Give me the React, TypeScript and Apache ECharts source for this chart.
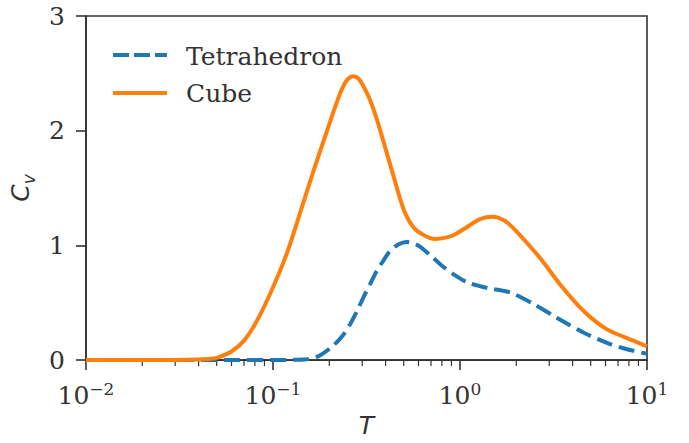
import React, { useEffect, useRef } from "react";
import * as echarts from "echarts";

// Data
const tetraT = [0.01, 0.02, 0.05, 0.1, 0.13, 0.155, 0.178, 0.21, 0.235, 0.258, 0.28, 0.304, 0.33, 0.358, 0.39, 0.422, 0.47, 0.518, 0.56, 0.611, 0.72, 0.82, 0.92, 1.09, 1.39, 1.85, 2.47, 3.29, 4.57, 6.34, 8.0, 10];
const tetraCv = [0, 0, 0, 0.001, 0.003, 0.01, 0.04, 0.127, 0.21, 0.31, 0.42, 0.545, 0.66, 0.775, 0.87, 0.95, 1.01, 1.03, 1.02, 0.99, 0.89, 0.81, 0.75, 0.68, 0.63, 0.59, 0.49, 0.37, 0.24, 0.14, 0.09, 0.055];

const cubeT = [0.01, 0.02, 0.03, 0.04, 0.045, 0.05, 0.06, 0.07, 0.08, 0.096, 0.118, 0.14, 0.164, 0.19, 0.219, 0.237, 0.253, 0.269, 0.286, 0.304, 0.33, 0.359, 0.397, 0.44, 0.498, 0.562, 0.638, 0.735, 0.85, 0.95, 1.09, 1.28, 1.5, 1.75, 2.01, 2.68, 3.43, 4.57, 6.08, 8.45, 10];
const cubeCv = [0, 0, 0.001, 0.005, 0.01, 0.02, 0.075, 0.17, 0.31, 0.57, 0.92, 1.29, 1.64, 1.95, 2.245, 2.385, 2.455, 2.475, 2.455, 2.39, 2.27, 2.1, 1.86, 1.61, 1.32, 1.16, 1.09, 1.055, 1.07, 1.1, 1.16, 1.23, 1.25, 1.21, 1.12, 0.89, 0.66, 0.43, 0.27, 0.17, 0.12];

const seriesNames = ["Tetrahedron", "Cube"];
const yTicks = [0, 1, 2, 3];
const xDecades = [0.01, 0.1, 1];
const minorMultipliers = [2, 3, 4, 5, 6, 7, 8, 9];

const INK = "#333333";
const SERIF = "'DejaVu Serif', serif";
const SANS = "'DejaVu Sans', sans-serif";

export default function App() {
  const ref = useRef<HTMLDivElement>(null);

  useEffect(() => {
    if (!ref.current) return;
    const chart = echarts.init(ref.current, null, { renderer: "svg" });

    const minorTicks: number[][] = [];
    xDecades.forEach((d) => minorMultipliers.forEach((m) => minorTicks.push([d * m, 0])));

    const fmtExp = (v: number) => {
      const e = Math.round(Math.log10(v));
      const s = e < 0 ? "\u2212" + -e : String(e);
      return `{b|10}{s|${s}}`;
    };

    chart.setOption({
      animation: false,
      grid: {
        left: 86,
        right: 42,
        top: 16,
        bottom: 80,
        show: true,
        borderColor: INK,
        borderWidth: 1.6,
      },
      xAxis: {
        type: "log",
        logBase: 10,
        min: 0.01,
        max: 10,
        name: "{i|T}",
        nameLocation: "middle",
        nameGap: 52,
        nameTextStyle: {
          rich: { i: { fontFamily: SANS, fontStyle: "italic", fontSize: 25, color: INK } },
        },
        axisLine: { show: true, lineStyle: { color: INK, width: 1.6 } },
        axisTick: { show: true, inside: false, length: 10, lineStyle: { color: INK, width: 1.6 } },
        splitLine: { show: false },
        axisLabel: {
          margin: 20,
          formatter: fmtExp,
          rich: {
            b: { fontFamily: SERIF, fontSize: 25, color: INK, lineHeight: 28, verticalAlign: "bottom" },
            s: { fontFamily: SERIF, fontSize: 17, color: INK, lineHeight: 17, padding: [0, 0, 11, 0], verticalAlign: "bottom" },
          },
        },
      },
      yAxis: {
        type: "value",
        min: 0,
        max: 3,
        interval: 1,
        name: "{c|C}{v|v}",
        nameLocation: "middle",
        nameRotate: 90,
        nameGap: 50,
        nameTextStyle: {
          rich: {
            c: { fontFamily: SANS, fontStyle: "italic", fontSize: 25, color: INK, lineHeight: 28, verticalAlign: "top" },
            v: { fontFamily: SANS, fontStyle: "italic", fontSize: 17, color: INK, lineHeight: 17, padding: [12, 0, 0, 0], verticalAlign: "top" },
          },
        },
        axisLine: { show: true, lineStyle: { color: INK, width: 1.6 } },
        axisTick: { show: true, inside: false, length: 10, lineStyle: { color: INK, width: 1.6 } },
        splitLine: { show: false },
        axisLabel: {
          margin: 21,
          fontFamily: SERIF,
          fontSize: 25,
          color: INK,
          formatter: (v: number) => (yTicks.includes(v) ? String(v) : ""),
        },
      },
      graphic: [
        {
          type: "line",
          shape: { x1: 113, y1: 55, x2: 167, y2: 55 },
          style: { stroke: "#1f77b4", lineWidth: 4, lineDash: [16, 5] },
        },
        {
          type: "line",
          shape: { x1: 113, y1: 93, x2: 167, y2: 93 },
          style: { stroke: "#ff7f0e", lineWidth: 4 },
        },
        {
          type: "text",
          x: 186,
          y: 56,
          style: { text: seriesNames[0], font: `25px ${SERIF}`, fill: INK, verticalAlign: "middle" },
        },
        {
          type: "text",
          x: 186,
          y: 93,
          style: { text: seriesNames[1], font: `25px ${SERIF}`, fill: INK, verticalAlign: "middle" },
        },
      ],
      series: [
        {
          name: seriesNames[0],
          type: "line",
          data: tetraT.map((t, i) => [t, tetraCv[i]]),
          showSymbol: false,
          smooth: 0.3,
          lineStyle: { color: "#1f77b4", width: 4, type: [16, 7] },
          z: 2,
        },
        {
          name: seriesNames[1],
          type: "line",
          data: cubeT.map((t, i) => [t, cubeCv[i]]),
          showSymbol: false,
          smooth: 0.3,
          lineStyle: { color: "#ff7f0e", width: 4 },
          z: 3,
        },
        {
          type: "custom",
          silent: true,
          clip: false,
          data: minorTicks,
          renderItem: (params: any, api: any) => {
            const p = api.coord([api.value(0), 0]);
            return {
              type: "line",
              shape: { x1: p[0], y1: p[1], x2: p[0], y2: p[1] + 6 },
              style: { stroke: INK, lineWidth: 1.2 },
            };
          },
          z: 1,
        },
      ],
    });

    return () => chart.dispose();
  }, []);

  return (
    <div
      ref={ref}
      style={{ position: "fixed", left: 0, top: 0, width: 689, height: 443, background: "#fff" }}
    />
  );
}
